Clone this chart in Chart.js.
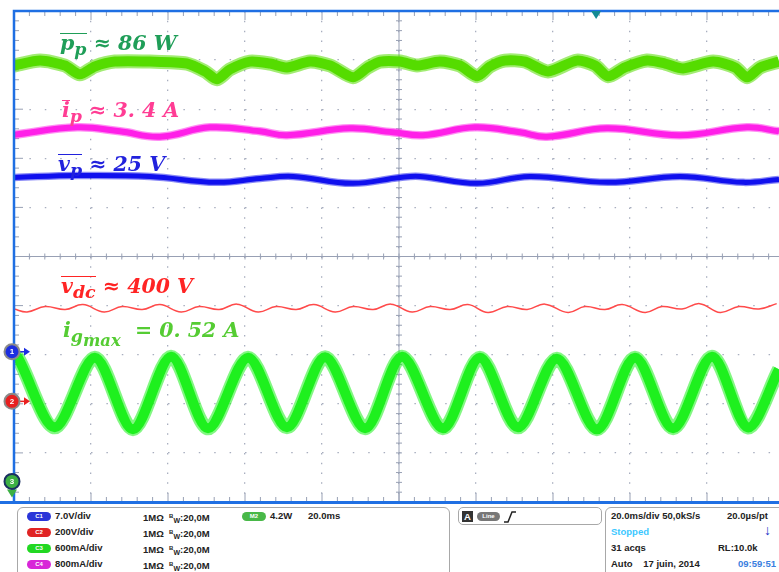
<!DOCTYPE html>
<html>
<head>
<meta charset="utf-8">
<script src="https://cdn.jsdelivr.net/npm/chart.js@4.4.0/dist/chart.umd.min.js"></script>
<style>
  html, body { margin: 0; padding: 0; background: #fff; overflow: hidden; }
  #wrap { position: relative; width: 779px; height: 572px; overflow: hidden; }
  #scope { position: absolute; left: 0; top: 0; }
  .ann { position: absolute; font-family: "DejaVu Serif", serif; font-weight: bold; font-style: italic;
         font-size: 20.5px; line-height: 20px; white-space: nowrap; }
  .ov { display: inline-block; border-top: 1.6px solid currentColor; line-height: 17px; padding-top: 1px; }
  .s1 { font-size: 0.85em; position: relative; top: 0.3em; }
  .s2 { font-size: 0.8em; position: relative; top: 0.55em; }
  #panel { position: absolute; left: 0; top: 504px; width: 779px; height: 68px; background: #fff;
           font-family: "Liberation Sans", Arial, sans-serif; font-weight: bold; font-size: 9.5px; color: #222; }
  .box { position: absolute; border: 1.5px solid #a8a8a8; border-radius: 6px; }
  .t { position: absolute; white-space: nowrap; line-height: 12px; }
  .pill { position: absolute; width: 24px; height: 9px; border-radius: 5px; color: #fff; font-size: 6px;
          line-height: 9px; text-align: center; }
</style>
</head>
<body>
<div id="wrap">
  <canvas id="scope" width="786" height="504"></canvas>

  <div class="ann" style="left:60px; top:33px; color:#1f9e58;"><span class="ov">p<span class="s1">p</span></span> ≈ 86 W</div>
  <div class="ann" style="left:62px; top:100px; color:#ff3d94;"><span class="ov">i</span><span class="s1">p</span> ≈ 3. 4 A</div>
  <div class="ann" style="left:58px; top:154px; color:#2222dd;"><span class="ov">v<span class="s1">p</span></span> ≈ 25 V</div>
  <div class="ann" style="left:61px; top:276px; color:#ff2424;"><span class="ov">v<span class="s1">dc</span></span> ≈ 400 V</div>
  <div class="ann" style="left:63px; top:320px; color:#55cc33;">i<span class="s1">g</span><span class="s2">max</span>&nbsp; = 0. 52 A</div>

  <div id="panel">
    <div class="box" style="left:17px; top:3px; width:431px; height:70px;"></div>
    <div class="box" style="left:458px; top:3px; width:142px; height:16px; border-radius:5px;"></div>
    <div class="box" style="left:605px; top:3px; width:190px; height:70px;"></div>

    <div class="pill" style="left:27px; top:8px; background:#2a35d8;">C1</div>
    <div class="pill" style="left:27px; top:24px; background:#e02424;">C2</div>
    <div class="pill" style="left:27px; top:40px; background:#22d822;">C3</div>
    <div class="pill" style="left:27px; top:56px; background:#d826d8;">C4</div>
    <div class="t" style="left:55px; top:6px;">7.0V/div</div>
    <div class="t" style="left:55px; top:22px;">200V/div</div>
    <div class="t" style="left:55px; top:38px;">600mA/div</div>
    <div class="t" style="left:55px; top:54px;">800mA/div</div>
    <div class="t" style="left:143px; top:6px;">1MΩ&nbsp; <span style="font-size:6px;vertical-align:3px">B</span><span style="font-size:7px;vertical-align:-2px">W</span>:20,0M</div>
    <div class="t" style="left:143px; top:22px;">1MΩ&nbsp; <span style="font-size:6px;vertical-align:3px">B</span><span style="font-size:7px;vertical-align:-2px">W</span>:20,0M</div>
    <div class="t" style="left:143px; top:38px;">1MΩ&nbsp; <span style="font-size:6px;vertical-align:3px">B</span><span style="font-size:7px;vertical-align:-2px">W</span>:20,0M</div>
    <div class="t" style="left:143px; top:54px;">1MΩ&nbsp; <span style="font-size:6px;vertical-align:3px">B</span><span style="font-size:7px;vertical-align:-2px">W</span>:20,0M</div>
    <div class="pill" style="left:242px; top:8px; background:#48b848;">M2</div>
    <div class="t" style="left:270px; top:6px;">4.2W</div>
    <div class="t" style="left:308px; top:6px;">20.0ms</div>

    <div class="t" style="left:462px; top:7px; width:11px; height:11px; background:#333; color:#fff; text-align:center; line-height:11px;">A</div>
    <div class="pill" style="left:477px; top:8px; background:#777; width:23px;">Line</div>
    <svg style="position:absolute; left:503px; top:7px;" width="14" height="12"><polyline points="1,11 5,11 9,1 13,1" fill="none" stroke="#222" stroke-width="1.5"/></svg>

    <div class="t" style="left:611px; top:6px;">20.0ms/div 50,0kS/s</div>
    <div class="t" style="left:727px; top:6px;">20.0µs/pt</div>
    <div class="t" style="left:611px; top:22px; color:#3cc8ff;">Stopped</div>
    <div class="t" style="left:764px; top:20px; color:#1a35c8; font-size:14px;">↓</div>
    <div class="t" style="left:611px; top:38px;">31 acqs</div>
    <div class="t" style="left:718px; top:38px;">RL:10.0k</div>
    <div class="t" style="left:611px; top:54px;">Auto&nbsp;&nbsp;&nbsp; 17 juin, 2014</div>
    <div class="t" style="left:738px; top:54px; color:#3a80e0;">09:59:51</div>
  </div>
</div>

<script>
// time axis in ms (20 ms/div), vertical axis in screen divisions
let powerTime = [0, 6.8, 13.2, 17.1, 21.0, 26.2, 35.3, 44.9, 49.6, 52.7, 56.1, 61.3, 66.5, 70.9, 76.9, 82.1, 88.1, 91.9, 95.1, 100.3,
                 104.7, 110.6, 115.8, 120.3, 123.6, 127.5, 132.7, 138.7, 146.2, 150.9, 154.3, 158.7, 164.4, 169.1, 173.8, 181.6, 187.3, 190.4, 193.8, 198.7];
let powerVal = [3.89, 3.99, 3.89, 3.71, 3.87, 3.97, 3.97, 3.93, 3.77, 3.61, 3.81, 3.97, 3.93, 3.85, 3.97, 3.89, 3.65, 3.85, 3.97, 3.97,
                3.89, 3.97, 3.89, 3.67, 3.87, 3.99, 3.97, 3.77, 3.99, 3.89, 3.67, 3.85, 3.99, 3.93, 3.83, 3.97, 3.85, 3.65, 3.85, 3.97];

let ipTime = [0, 16.4, 27.5, 37.9, 50.9, 63.9, 70.9, 87.3, 98.4, 106.2, 119.7, 131.4, 138.4, 154.0, 173.0, 190.4, 198.7];
let ipVal = [2.48, 2.63, 2.55, 2.44, 2.63, 2.55, 2.47, 2.61, 2.53, 2.47, 2.63, 2.53, 2.44, 2.61, 2.47, 2.63, 2.55];

let vpTime = [0, 16.4, 35.3, 52.7, 63.9, 72.5, 87.8, 100.3, 105.5, 120.3, 134.0, 154.3, 173.0, 189.4, 198.7];
let vpVal = [1.61, 1.65, 1.63, 1.51, 1.59, 1.63, 1.49, 1.61, 1.63, 1.49, 1.63, 1.51, 1.63, 1.51, 1.57];

let vdcTime = [0, 3.4, 8.1, 13.3, 17.9, 23.4, 28.1, 33.3, 37.9, 43.4, 48.1, 53.3, 57.9, 63.4, 68.1, 73.3, 77.9, 83.4, 88.1, 93.3,
               97.9, 103.4, 108.1, 113.3, 117.9, 123.1, 128.1, 133.3, 137.9, 143.9, 148.3, 153.5, 158.0, 163.9, 168.3, 173.5, 178.1, 183.4, 188.3, 193.5, 198.1];
let vdcVal = [-1.07, -1.13, -1.02, -1.08, -0.98, -1.13, -1.02, -1.08, -0.98, -1.13, -1.02, -1.08, -0.97, -1.13, -1.02, -1.08, -0.98, -1.13, -1.02, -1.08,
              -0.97, -1.13, -1.02, -1.08, -0.98, -1.14, -1.02, -1.08, -0.97, -1.14, -1.02, -1.08, -0.98, -1.14, -1.02, -1.07, -0.96, -1.14, -1.02, -1.07, -0.96];

let igTime = [0, 1.0, 10.6, 21.0, 30.9, 40.8, 50.4, 60.8, 70.9, 80.8, 91.2, 100.8, 111.4, 121.0, 130.9, 141.0, 151.4, 161.3, 171.2, 181.3, 190.6, 198.7];
let igVal = [-2.08, -2.06, -3.48, -2.06, -3.52, -2.04, -3.50, -2.06, -3.48, -2.05, -3.50, -2.04, -3.50, -2.06, -3.48, -2.08, -3.52, -2.06, -3.50, -2.04, -3.48, -2.30];

// reference markers (divisions) and trigger position (ms)
let ch1Ref = -1.94;
let ch2Ref = -2.95;
let ch3Ref = -4.58;
let trigTime = 151.2;

function pts(ts, vs) {
    return ts.map((t, i) => ({ x: t, y: vs[i] }));
}

function trace(data, color, width, tension) {
    return {
        data: data,
        borderColor: color,
        borderWidth: width,
        pointRadius: 0,
        tension: tension,
        fill: false
    };
}

const scopeDecor = {
    id: 'scopeDecor',
    beforeDatasetsDraw(chart) {
        const { ctx, chartArea: a, scales: { x, y } } = chart;
        ctx.save();
        ctx.strokeStyle = '#98a0b4';
        ctx.lineWidth = 1;
        let cx = x.getPixelForValue(100);
        let cy = y.getPixelForValue(0);
        ctx.beginPath();
        ctx.moveTo(cx, a.top); ctx.lineTo(cx, a.bottom);
        ctx.moveTo(a.left, cy); ctx.lineTo(a.right, cy);
        for (let i = 0; i <= 50; i++) {
            let px = x.getPixelForValue(i * 4);
            let big = i % 5 === 0 ? 9 : 5;
            ctx.moveTo(px, cy - 3); ctx.lineTo(px, cy + 3);
            ctx.moveTo(px, a.top); ctx.lineTo(px, a.top + big);
            ctx.moveTo(px, a.bottom); ctx.lineTo(px, a.bottom - big);
        }
        for (let i = 0; i <= 50; i++) {
            let py = y.getPixelForValue(-5 + i * 0.2);
            let big = i % 5 === 0 ? 9 : 5;
            ctx.moveTo(cx - 3, py); ctx.lineTo(cx + 3, py);
            ctx.moveTo(a.left, py); ctx.lineTo(a.left + big, py);
        }
        ctx.stroke();
        ctx.restore();
    },
    afterDatasetsDraw(chart) {
        const { ctx, chartArea: a, scales: { x, y } } = chart;
        ctx.save();
        // frame
        ctx.strokeStyle = '#1f6fe3';
        ctx.lineWidth = 2.5;
        ctx.beginPath();
        ctx.moveTo(chart.width, a.top); ctx.lineTo(a.left, a.top); ctx.lineTo(a.left, a.bottom);
        ctx.stroke();
        ctx.lineWidth = 3;
        ctx.beginPath();
        ctx.moveTo(0, a.bottom + 0.5); ctx.lineTo(chart.width, a.bottom + 0.5);
        ctx.stroke();

        // trigger marker
        let tx = x.getPixelForValue(trigTime);
        ctx.fillStyle = '#148a94';
        ctx.beginPath();
        ctx.moveTo(tx - 5, a.top); ctx.lineTo(tx + 5, a.top); ctx.lineTo(tx, a.top + 8);
        ctx.fill();

        // channel markers
        const marks = [[ch1Ref, '#1c2ee0', '#8a8a8a', '1', true], [ch2Ref, '#e82020', '#8a8a8a', '2', true], [ch3Ref, '#3cb043', '#1a3060', '3', false]];
        marks.forEach(m => {
            let py = y.getPixelForValue(m[0]);
            let mx = a.left - 2;
            if (m[4]) {
                ctx.strokeStyle = m[1];
                ctx.lineWidth = 1.5;
                ctx.beginPath();
                ctx.moveTo(mx + 8, py); ctx.lineTo(mx + 13, py);
                ctx.stroke();
                ctx.fillStyle = m[1];
                ctx.beginPath();
                ctx.moveTo(mx + 12, py - 4); ctx.lineTo(mx + 18, py); ctx.lineTo(mx + 12, py + 4);
                ctx.fill();
            } else {
                ctx.fillStyle = '#3cb043';
                ctx.beginPath();
                ctx.moveTo(mx - 5, py + 8); ctx.lineTo(mx + 5, py + 8); ctx.lineTo(mx, py + 16);
                ctx.fill();
            }
            ctx.beginPath();
            ctx.arc(mx, py, 7.5, 0, Math.PI * 2);
            ctx.fillStyle = m[1];
            ctx.fill();
            ctx.lineWidth = 2;
            ctx.strokeStyle = m[2];
            ctx.stroke();
            ctx.fillStyle = '#fff';
            ctx.font = 'bold 8px "Liberation Sans", Arial';
            ctx.textAlign = 'center';
            ctx.textBaseline = 'middle';
            ctx.fillText(m[3], mx, py + 0.5);
        });
        ctx.restore();
    }
};

let chart = new Chart(document.getElementById('scope').getContext('2d'), {
    type: 'line',
    data: {
        datasets: [
            trace(pts(vdcTime, vdcVal), '#ff4a4a', 1.5, 0.4),
            trace(pts(igTime, igVal), '#1ef01e', 10, 0.3),
            trace(pts(igTime, igVal), 'rgba(30,240,30,0.55)', 14, 0.3),
            trace(pts(powerTime, powerVal), '#55dc00', 10, 0.25),
            trace(pts(powerTime, powerVal), 'rgba(85,220,0,0.55)', 14, 0.25),
            trace(pts(ipTime, ipVal), '#ff1fe8', 6, 0.4),
            trace(pts(ipTime, ipVal), 'rgba(255,31,232,0.5)', 8.5, 0.4),
            trace(pts(vpTime, vpVal), '#1010ee', 5, 0.4),
            trace(pts(vpTime, vpVal), 'rgba(16,16,238,0.5)', 7.5, 0.4)
        ]
    },
    options: {
        responsive: false,
        animation: false,
        devicePixelRatio: 1,
        layout: { padding: { left: 14, top: 11, right: 2, bottom: 2 } },
        plugins: { legend: { display: false }, tooltip: { enabled: false } },
        scales: {
            x: {
                type: 'linear', min: 0, max: 200,
                ticks: { display: false, stepSize: 20 },
                grid: { color: '#a8aebf', lineWidth: 1.3, drawTicks: false },
                border: { display: false, dash: [1.5, 8.32] },
                afterFit: s => { s.height = 0; }
            },
            y: {
                type: 'linear', min: -5, max: 5,
                ticks: { display: false, stepSize: 1 },
                grid: { color: '#a8aebf', lineWidth: 1.3, drawTicks: false },
                border: { display: false, dash: [1.5, 13.9] },
                afterFit: s => { s.width = 0; }
            }
        }
    },
    plugins: [scopeDecor]
});
</script>
</body>
</html>
